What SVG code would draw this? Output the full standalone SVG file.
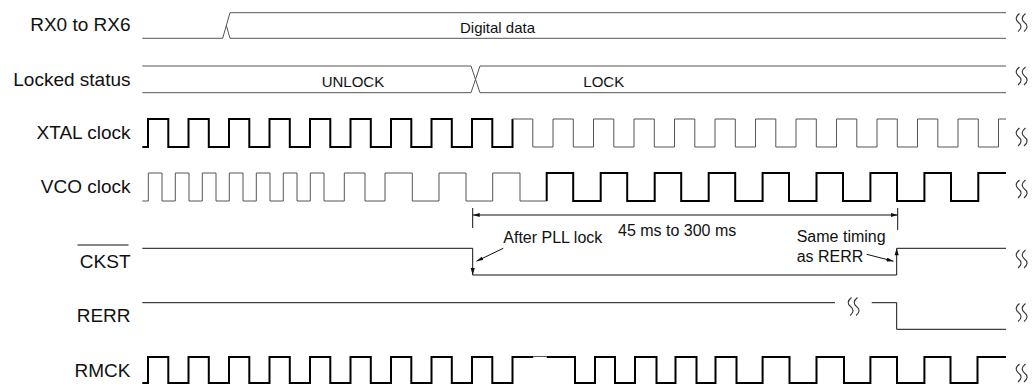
<svg xmlns="http://www.w3.org/2000/svg" xmlns:xlink="http://www.w3.org/1999/xlink" width="1034" height="388" viewBox="0 0 1034 388">
<style>
.lbl{font-family:"Liberation Sans",Arial,sans-serif;font-size:19px;fill:#111;text-anchor:end}
.dat{font-family:"Liberation Sans",Arial,sans-serif;font-size:15px;fill:#111}
.ann{font-family:"Liberation Sans",Arial,sans-serif;font-size:16px;fill:#111}
.g{fill:none;stroke:#555;stroke-width:1}
.k{fill:none;stroke:#111;stroke-width:1}
.thk{fill:none;stroke:#000;stroke-width:2;stroke-linejoin:miter}
.brk{fill:none;stroke:#333;stroke-width:1.1}
</style>
<defs>
<marker id="ah" viewBox="0 0 7 4" refX="7" refY="2" markerWidth="7" markerHeight="4" orient="auto-start-reverse" markerUnits="userSpaceOnUse"><path d="M0,0 L7,2 L0,4 z" fill="#111"/></marker>
<path id="brk" class="brk" d="M4.5,0 C0,3.5 0.5,6.5 3.5,9 C7,11.5 7,15 3,18 M10.5,0 C6,3.5 6.5,6.5 9.5,9 C13,11.5 13,15 9,18"/>
</defs>
<rect width="1034" height="388" fill="#fff"/>

<g id="rx">
<text class="lbl" x="130.5" y="31">RX0 to RX6</text>
<path class="g" d="M142.3,38.3 H222.7 L230,12.7 H1006 M226.35,25.5 L230,38.3 H1006"/>
<text class="dat" x="460" y="33">Digital data</text>
<use xlink:href="#brk" x="1015" y="13.5"/>
</g>

<g id="locked">
<text class="lbl" x="130.5" y="86">Locked status</text>
<path class="g" d="M142.3,66 H471 L480,92.7 H1006 M142.3,92.7 H471 L480,66 H1006"/>
<text class="dat" x="321.7" y="87">UNLOCK</text>
<text class="dat" x="583.3" y="87">LOCK</text>
<use xlink:href="#brk" x="1015" y="67"/>
</g>

<g id="xtal">
<text class="lbl" x="130.5" y="139">XTAL clock</text>
<path class="thk" d="M142.3,147 H148 V119 H168.3 V147 H188.5 V119 H208.8 V147 H229 V119 H249.3 V147 H269.5 V119 H289.8 V147 H310 V119 H330.3 V147 H350.5 V119 H370.8 V147 H391 V119 H411.3 V147 H431.5 V119 H451.8 V147 H472 V119 H492.3 V147 H512.5 V119"/>
<path class="g" d="M512.5,119 H532.8 V147 H553 V119 H573.3 V147 H593.5 V119 H613.8 V147 H634 V119 H654.3 V147 H674.5 V119 H694.8 V147 H715 V119 H735.3 V147 H755.5 V119 H775.8 V147 H796 V119 H816.3 V147 H836.5 V119 H856.8 V147 H877 V119 H897.3 V147 H917.5 V119 H937.8 V147 H958 V119 H978.3 V147 H998.5 V119 H1006"/>
<use xlink:href="#brk" x="1015" y="128"/>
</g>

<g id="vco">
<text class="lbl" x="130.5" y="193">VCO clock</text>
<path class="g" d="M142.3,201 H148.3 V173 H162 V201 H175.3 V173 H189 V201 H202.3 V173 H216 V201 H229.3 V173 H243 V201 H256.3 V173 H270 V201 H283.3 V173 H297 V201 H310.3 V173 H324 V201 H344.3 V173 H365 V201 H385 V173 H412.3 V201 H439 V173 H466 V201 H492.7 V173 H520 V201 H546.7"/>
<path class="thk" d="M546.7,201 V173 H573.2 V201 H600.7 V173 H627.2 V201 H654.7 V173 H681.2 V201 H708.7 V173 H735.2 V201 H762.6 V173 H789 V201 H816.5 V173 H843 V201 H870.4 V173 H897 V201 H924.4 V173 H951 V201 H978.3 V173 H1006"/>
<use xlink:href="#brk" x="1015" y="180"/>
</g>

<g id="ckst">
<text class="lbl" x="130.5" y="267.5">CKST</text>
<line class="k" x1="77.5" y1="245" x2="128.5" y2="245"/>
<path class="k" d="M142.3,248.3 H472.7 V275 H896.7 V248.3 H1006"/>
<polygon points="472.7,275 470.6,268 474.8,268" fill="#111"/>
<polygon points="896.7,248.3 894.6,255.3 898.8,255.3" fill="#111"/>
<text class="ann" x="503.3" y="243.3">After PLL lock</text>
<text class="ann" x="796.7" y="242.3">Same timing</text>
<text class="ann" x="796.7" y="262.3">as RERR</text>
<use xlink:href="#brk" x="1015" y="250"/>
</g>

<g id="rerr">
<text class="lbl" x="130.5" y="322">RERR</text>
<path class="k" d="M142.3,302.7 H835 M871.7,302.7 H896.7 V329.3 H1006"/>
<use xlink:href="#brk" x="847" y="297.5"/>
<use xlink:href="#brk" x="1015" y="303.5"/>
</g>

<g id="rmck">
<text class="lbl" x="130.5" y="376.5">RMCK</text>
<path class="thk" d="M142.3,383 H148 V357 H168.3 V383 H188.5 V357 H208.8 V383 H229 V357 H249.3 V383 H269.5 V357 H289.8 V383 H310 V357 H330.3 V383 H350.5 V357 H370.8 V383 H391 V357 H411.3 V383 H431.5 V357 H451.8 V383 H472 V357 H492.3 V383 H512.5 V357 H533.3"/>
<path class="g" d="M533.3,356.5 H546.7"/>
<path class="thk" d="M546.7,357 H575 V383 H595 V357 H615 V383 H635 V357 H656.5 V383 H675.5 V357 H696.5 V383 H715.5 V357 H736.5 V383 H762.6 V357 H789.5 V383 H816.5 V357 H844 V383 H870.4 V357 H897 V383 H924.4 V357 H950.5 V383 H977.5 V357 H1006"/>
<use xlink:href="#brk" x="1015" y="364"/>
</g>

<g id="connectors">
<path class="k" d="M472.7,208 V228 M897.7,208 V230"/>
<line class="k" x1="472.7" y1="215" x2="897.7" y2="215" marker-start="url(#ah)" marker-end="url(#ah)"/>
<text class="ann" x="618" y="235.5">45 ms to 300 ms</text>
<line class="k" x1="503.3" y1="248.3" x2="476.5" y2="261.2" marker-end="url(#ah)"/>
<line class="k" x1="866.7" y1="254.3" x2="893.5" y2="261.2" marker-end="url(#ah)"/>
</g>
</svg>
